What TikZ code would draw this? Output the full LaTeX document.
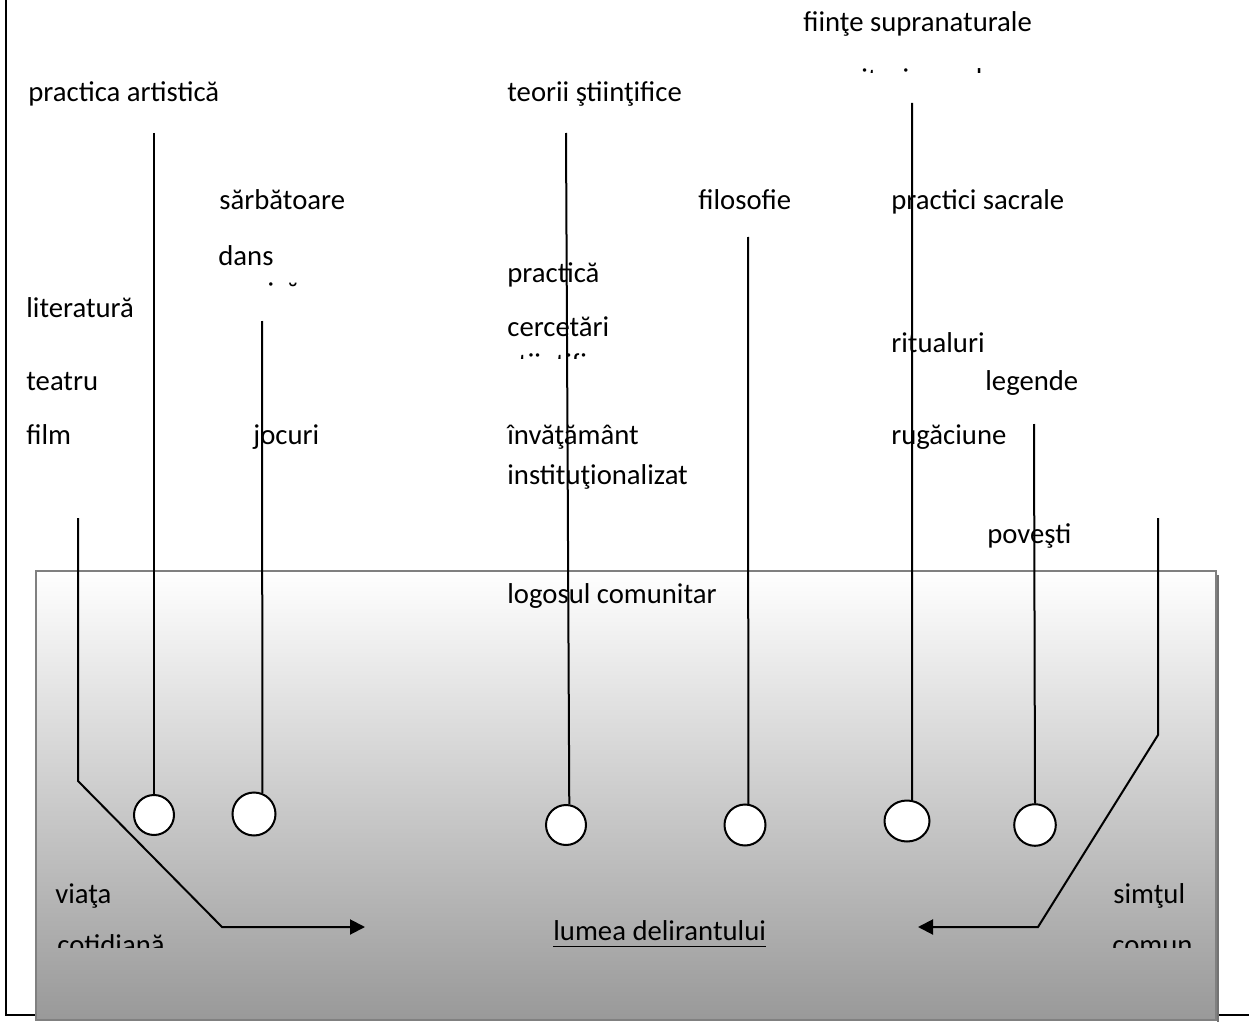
\documentclass[tikz,border=0pt]{standalone}
\usepackage{fontspec}
\setmainfont{Carlito}
\usetikzlibrary{arrows.meta,shapes.geometric}
\tikzset{
  lbl/.style={anchor=base west, inner sep=0pt, font=\fontsize{14.35}{17}\selectfont},
  knob/.style={circle, draw, fill=white, line width=1pt, inner sep=0pt},
  stem/.style={line width=1pt},
  flow/.style={line width=1pt, -{Triangle[length=7.5pt,width=7.5pt]}}
}
\begin{document}
\begin{tikzpicture}[x=0.5pt,y=-0.5pt]
\useasboundingbox (0,0) rectangle (1249,1022);
% outer frame
\draw [line width=1pt] (6,0) -- (6,1015) -- (1249,1015);

% shaded box
\draw [line width=0.75pt, draw=black!50, top color=white, bottom color=black!40] (36,571) rectangle (1216,1020);
\draw [line width=1pt, black!55] (1218,575) -- (1218,1022);

% labels
\node [lbl] (fiinte) at (803,31.5) {fiinţe supranaturale};
\begin{scope}
\clip (800,40) rectangle (1040,73);
\node [lbl] (mituri) at (838,88.5) {mituri sacrale};
\end{scope}
\node [lbl] (artist) at (28,101.5) {practica artistică};
\node [lbl] (teorii) at (507,101.5) {teorii ştiinţifice};
\node [lbl] (sarb) at (219,209.5) {sărbătoare};
\node [lbl] (filo) at (698,209.5) {filosofie};
\node [lbl] (sacr) at (891,209.5) {practici sacrale};
\node [lbl] (dans) at (218,265.5) {dans};
\begin{scope}
\clip (200,272) rectangle (340,287);
\node [lbl] (muzica) at (218,302) {muzică};
\end{scope}
\node [lbl] (pract) at (507,282.5) {practică};
\node [lbl] (lit) at (26,317.5) {literatură};
\node [lbl] (cerc) at (507,336.5) {cercetări};
\begin{scope}
\clip (500,346) rectangle (640,358);
\node [lbl] (stiint) at (507,373) {ştiinţifice};
\end{scope}
\node [lbl] (ritual) at (891,352.5) {ritualuri};
\node [lbl] (teatru) at (26,390.5) {teatru};
\node [lbl] (leg) at (985,390.5) {legende};
\node [lbl] (film) at (26,444.5) {film};
\node [lbl] (jocuri) at (253,444.5) {jocuri};
\node [lbl] (invat) at (507,444.5) {învăţământ};
\node [lbl] (instit) at (507,484) {instituţionalizat};
\node [lbl] (rug) at (891,444.5) {rugăciune};
\node [lbl] (pov) at (987,543.5) {poveşti};
\node [lbl] (logos) at (507,603.5) {logosul comunitar};
\node [lbl] (viata) at (55,903) {viaţa};
\begin{scope}
\clip (40,922) rectangle (220,947);
\node [lbl] (cotid) at (57,954) {cotidiană};
\end{scope}
\node [lbl] (lumea) at (553,940) {lumea delirantului};
\draw [line width=0.5pt] ([yshift=-3pt]lumea.base west) -- ([yshift=-3pt]lumea.base east);
\node [lbl] (simt) at (1113,903) {simţul};
\begin{scope}
\clip (1100,922) rectangle (1212,947);
\node [lbl] (comun) at (1112,954) {comun};
\end{scope}

% knobs and stems
\node [knob, minimum size=20pt] (c1) at (154,815) {};
\node [knob, minimum size=21.5pt] (c2) at (254,814) {};
\node [knob, minimum size=20pt] (c3) at (566,825) {};
\node [knob, minimum size=20.5pt] (c4) at (745,825) {};
\node [knob, ellipse, minimum width=22.5pt, minimum height=20.5pt] (c5) at (907,821) {};
\node [knob, minimum size=20.8pt] (c6) at (1035,825) {};

\coordinate (t1) at (154,133);
\coordinate (t2) at (262,321);
\coordinate (t3) at (566,133);
\coordinate (t4) at (748,237);
\coordinate (t5) at (912,103);
\coordinate (t6) at (1034,424);

\draw [stem] (t1) -- (c1.north);
\draw [stem] (t2) -- (c2.68);
\draw [stem] (t3) -- (c3.81);
\draw [stem] (t4) -- (c4.81);
\draw [stem] (t5) -- (c5.76);
\draw [stem] (t6) -- (c6.north);

% arrows into the box
\coordinate (a1) at (78,518);
\coordinate (a2) at (78,781);
\coordinate (a3) at (222,927);
\coordinate (a4) at (365,927);
\draw [flow] (a1) -- (a2) -- (a3) -- (a4);

\coordinate (b1) at (1158,518);
\coordinate (b2) at (1158,735);
\coordinate (b3) at (1038,927);
\coordinate (b4) at (918,927);
\draw [flow] (b1) -- (b2) -- (b3) -- (b4);
\end{tikzpicture}
\end{document}
